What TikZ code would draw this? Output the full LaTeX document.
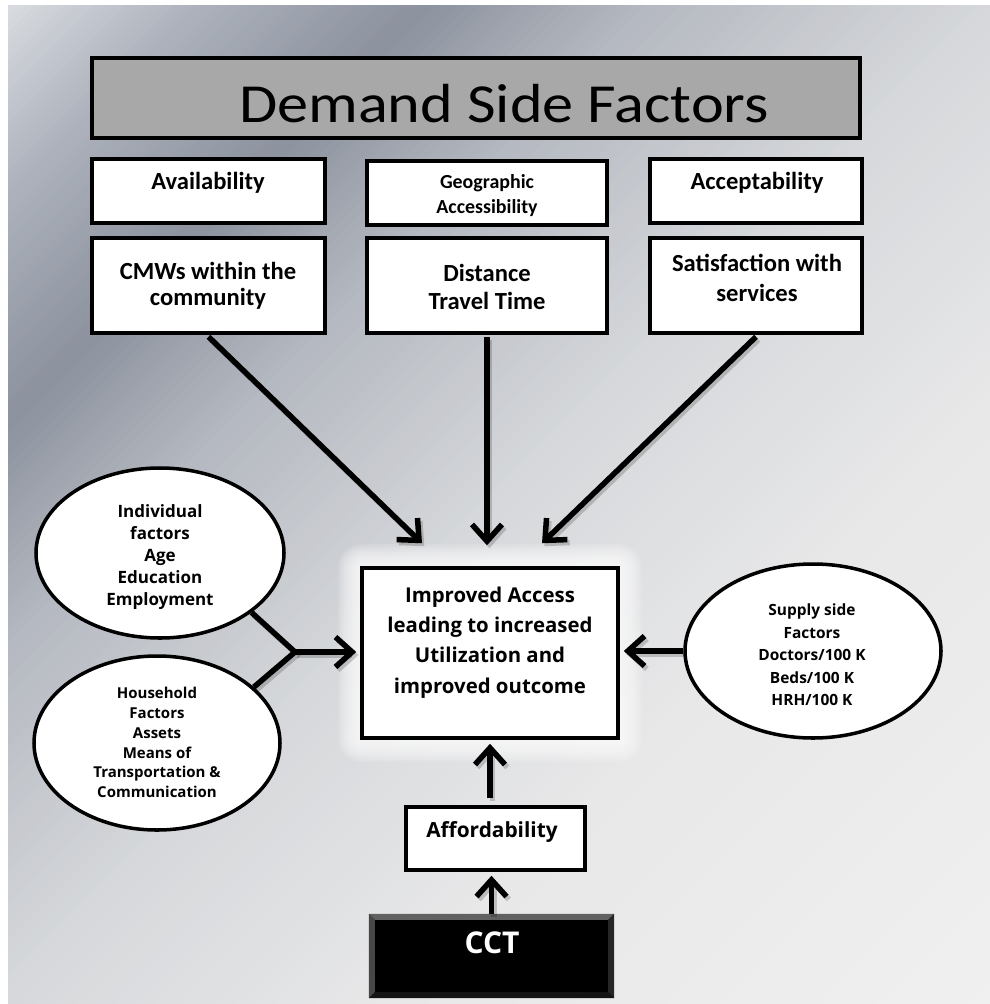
\documentclass[tikz,border=0pt]{standalone}
\usepackage{fontspec}
\setmainfont{Carlito}
\newfontfamily\osans{Open Sans}
\newfontfamily\titlefont[FakeStretch=1.13]{Carlito}
\usetikzlibrary{arrows.meta,shapes.geometric,calc}
\definecolor{bgA}{HTML}{DCDFE3}
\definecolor{bgB}{HTML}{ADB2BC}
\definecolor{bgC}{HTML}{8C929E}
\definecolor{bgD}{HTML}{B4B8C0}
\definecolor{bgE}{HTML}{D6D8DB}
\definecolor{bgF}{HTML}{E8E8E9}
\definecolor{bgG}{HTML}{F0F0F0}
\definecolor{titlegray}{HTML}{A8A8A8}
\newcommand\pxu{0.03cm}
\newcommand\bgseg[4]{%
  \foreach \i in {0,...,19}{%
    \pgfmathsetmacro\ca{#1+(#2-#1)*\i/20}%
    \pgfmathsetmacro\cb{#1+(#2-#1)*(\i+1)/20+1.5}%
    \pgfmathsetmacro\pp{100-5*(\i+0.5)}%
    \fill[#3!\pp!#4] (\ca,0) -- (\cb,0) -- (\cb-1004,1004) -- (\ca-1004,1004) -- cycle;}}
\tikzset{
  box/.style={draw=black, line width=3pt, fill=white, rectangle, inner sep=0pt},
  ell/.style={draw=black, line width=3pt, fill=white, ellipse, inner sep=0pt},
  arr/.style={line width=4.7pt, -{Straight Barb[length=0.5cm,width=0.9cm]}},
  arrshadow/.style={arr, draw=black, opacity=0.18, transform canvas={xshift=2pt, yshift=-2.5pt}},
  btxt/.style={font=\bfseries\fontsize{21}{24}\selectfont, align=center, inner sep=0pt},
  otxt/.style={align=center, inner sep=0pt},
}
\begin{document}
\begin{tikzpicture}[x=0.03cm, y=-0.03cm]
\useasboundingbox (0,0) rectangle (990,1004);
\fill[white] (0,0) rectangle (990,1004);
% background gradient
\begin{scope}
\clip (8,5) rectangle (990,1004);
\bgseg{0}{200}{bgA}{bgB}
\bgseg{200}{430}{bgB}{bgC}
\bgseg{430}{650}{bgC}{bgD}
\bgseg{650}{1000}{bgD}{bgE}
\bgseg{1000}{1400}{bgE}{bgF}
\bgseg{1400}{2000}{bgF}{bgG}
\end{scope}
% glow around central box
\foreach \r in {2,4,...,24}
  \fill[white, opacity=0.12, rounded corners=\r*0.03cm] (362-\r,568-\r) rectangle (618+\r,738+\r);

% title
\node[box, fill=titlegray, minimum width=768*\pxu, minimum height=80*\pxu] (title) at (476,98) {};
\node[font=\titlefont\fontsize{47}{50}\selectfont, inner sep=0pt] (title-t) at (504,104) {Demand Side Factors};

% top row
\node[box, minimum width=233*\pxu, minimum height=64*\pxu] (avail) at (208.5,191) {};
\node[btxt] (avail-t) at (208,183) {Availability};
\node[box, minimum width=240*\pxu, minimum height=64*\pxu] (geo) at (487,193) {};
\node[btxt, font=\bfseries\fontsize{17}{21}\selectfont] (geo-t) at (487,195.5) {Geographic\\Accessibility};
\node[box, minimum width=212*\pxu, minimum height=64*\pxu] (accept) at (756,191) {};
\node[btxt] (accept-t) at (757,183) {Acceptability};

% second row
\node[box, minimum width=233*\pxu, minimum height=95*\pxu] (cmw) at (208.5,285.5) {};
\node[btxt, font=\bfseries\fontsize{21}{22.5}\selectfont] (cmw-t) at (208,286) {CMWs within the\\community};
\node[box, minimum width=240*\pxu, minimum height=95*\pxu] (dist) at (487,285.5) {};
\node[btxt, font=\bfseries\fontsize{21}{24}\selectfont] (dist-t) at (487,287) {Distance\\Travel Time};
\node[box, minimum width=212*\pxu, minimum height=95*\pxu] (satis) at (756,285.5) {};
\node[btxt, font=\bfseries\fontsize{21}{25.6}\selectfont] (satis-t) at (757,278) {Satisfaction with\\services};

% central box
\node[box, minimum width=256*\pxu, minimum height=170*\pxu] (center) at (490,653) {};
\node[otxt, font=\osans\bfseries\fontsize{17.4}{25.9}\selectfont] (center-t) at (490,642.5)
  {Improved Access\\leading to increased\\Utilization and\\improved outcome};

% ellipses
\node[ell, minimum width=248*\pxu, minimum height=170*\pxu] (ell1) at (160,553) {};
\begin{scope}
\clip (40,480) rectangle (280,608);
\node[otxt, font=\osans\bfseries\fontsize{14.5}{18.8}\selectfont] (ell1-t) at (160,557.5)
  {Individual\\factors\\Age\\Education\\Employment};
\end{scope}
\node[ell, minimum width=246*\pxu, minimum height=174*\pxu] (ell2) at (157,743) {};
\node[otxt, font=\osans\bfseries\fontsize{12.8}{16.9}\selectfont] (ell2-t) at (157,742.5)
  {Household\\Factors\\Assets\\Means of\\Transportation \&\\Communication};
\node[ell, minimum width=256*\pxu, minimum height=174*\pxu] (ell3) at (813,651) {};
\node[otxt, font=\osans\bfseries\fontsize{13.2}{19.2}\selectfont] (ell3-t) at (812,655)
  {Supply side\\Factors\\Doctors/100 K\\Beds/100 K\\HRH/100 K};

% affordability and CCT
\node[box, minimum width=179*\pxu, minimum height=63*\pxu] (afford) at (495.5,838.5) {};
\node[otxt, font=\osans\bfseries\fontsize{17.8}{20}\selectfont] (afford-t) at (492,832) {Affordability};
\node[fill=black, rectangle, inner sep=0pt, minimum width=245*\pxu, minimum height=84*\pxu] (cct) at (491.5,956) {};
\fill[black!62] (cct.north west) -- (cct.north east) -- ($(cct.north east)+(-6,6)$) -- ($(cct.north west)+(6,6)$) -- cycle;
\fill[black!72] (cct.north west) -- ($(cct.north west)+(6,6)$) -- ($(cct.south west)+(6,-6)$) -- (cct.south west) -- cycle;
\fill[black!85] (cct.north east) -- ($(cct.north east)+(-6,6)$) -- ($(cct.south east)+(-6,-6)$) -- (cct.south east) -- cycle;
\fill[black!92] (cct.south west) -- ($(cct.south west)+(6,-6)$) -- ($(cct.south east)+(-6,-6)$) -- (cct.south east) -- cycle;
\node[otxt, text=white, font=\osans\bfseries\fontsize{25.6}{28}\selectfont] (cct-t) at (492,943) {CCT};

% connectors
\coordinate (mrg) at (295,652);
\foreach \sty in {arrshadow, arr}{
  \draw[\sty] ([yshift=-2*\pxu]cmw.south) -- ($(center.north)+(-68,-23)$);
  \draw[\sty, shorten >=0.69cm] ([yshift=-2*\pxu]dist.south) -- ([yshift=-2*\pxu]dist.south |- center.north);
  \draw[\sty] ([yshift=-2*\pxu]satis.south) -- ($(center.north)+(52,-23)$);
  \draw[\sty, -, line join=miter] (ell1.-33) -- (mrg) -- (ell2.30);
  \draw[\sty, shorten >=0.12cm] (mrg) -- (center.west |- mrg);
  \draw[\sty, shorten >=0.12cm] (ell3.west) -- (center.east |- ell3.west);
  \draw[\sty, shorten <=0.21cm, shorten >=0.12cm] (center.south |- afford.north) -- (center.south);
  \draw[\sty, shorten >=0.12cm] (cct.north) -- (cct.north |- afford.south);
}
\end{tikzpicture}
\end{document}
